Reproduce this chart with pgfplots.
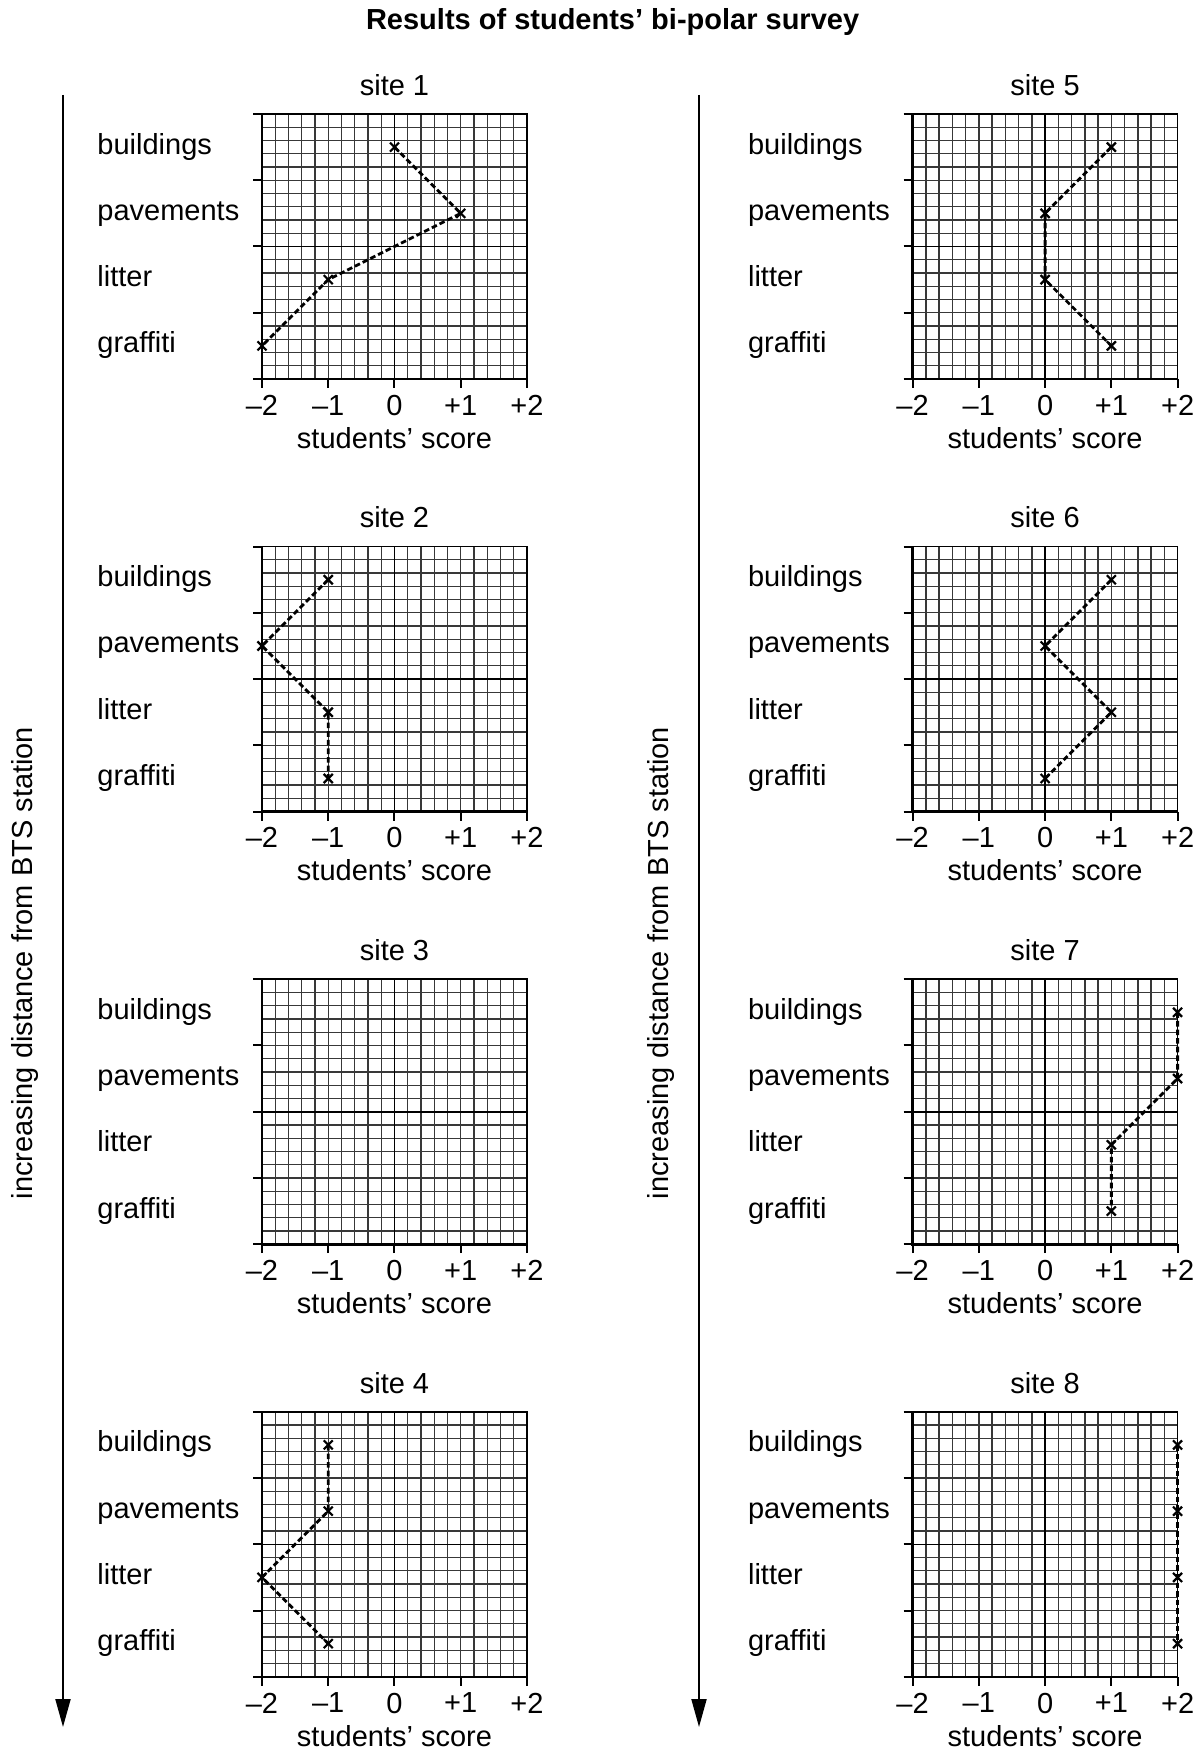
\documentclass[border=0pt]{standalone}
\usepackage{fontspec}
\setmainfont{Liberation Sans}
\usepackage{pgfplots}
\pgfplotsset{compat=1.18}
\usetikzlibrary{arrows.meta}

\pgfplotsset{
  site/.style={
    width=132.5pt, height=132.5pt, scale only axis,
    anchor=north west,
    xmin=-2, xmax=2, ymin=0, ymax=4,
    xtick={-2,-1,0,1,2}, xticklabels={–2,–1,0,+1,+2},
    ytick={0,1,2,3,4}, yticklabels={},
    minor x tick num=4, minor y tick num=4,
    grid=both,
    major grid style={black!78, line width=0.65pt},
    minor grid style={black!78, line width=0.65pt},
    tick align=outside, tick pos=left,
    major tick length=4.5pt, minor tick length=0pt,
    tick style={black, line width=1pt},
    axis line style={black, line width=0.8pt},
    clip=false,
    tick label style={font=\fontsize{14.5}{17}\selectfont},
  },
  dat/.style={black, line width=1.4pt, dash pattern=on 2.8pt off 1.5pt,
    mark=x, mark size=3.2pt, mark options={solid, line width=1.1pt}},
}

\newcommand{\site}[4]{%
\begin{axis}[site, at={(#1,#2)}]
\draw[black, line width=0.8pt] (axis cs:0,0) -- (axis cs:0,4);
\draw[black, line width=0.8pt] (axis cs:-2,2) -- (axis cs:2,2);
\draw[black, line width=1.3pt] (rel axis cs:0,1) -- (rel axis cs:0,0) -- (rel axis cs:1,0);
#4
\node[yshift=14.5pt] at (rel axis cs:0.5,1) {#3};
\node[anchor=base west, xshift=-85.8pt, yshift=-3.5pt] at (rel axis cs:0,0.875) {buildings};
\node[anchor=base west, xshift=-85.8pt, yshift=-3.5pt] at (rel axis cs:0,0.625) {pavements};
\node[anchor=base west, xshift=-85.8pt, yshift=-3.5pt] at (rel axis cs:0,0.375) {litter};
\node[anchor=base west, xshift=-85.8pt, yshift=-3.5pt] at (rel axis cs:0,0.125) {graffiti};
\node[yshift=-29.5pt] at (rel axis cs:0.5,0) {students’ score};
\end{axis}}

\begin{document}
\begin{tikzpicture}[font=\fontsize{14.5}{17}\selectfont]
\useasboundingbox (0pt,0pt) rectangle (601pt,-874pt);

\node[font=\fontsize{14.5}{17}\selectfont\bfseries] at (306.3pt,-11pt) {Results of students’ bi-polar survey};

% left column
\site{131pt}{-57pt}{site 1}{\addplot[dat] coordinates {(0,3.5) (1,2.5) (-1,1.5) (-2,0.5)};}
\site{131pt}{-273.3pt}{site 2}{\addplot[dat] coordinates {(-1,3.5) (-2,2.5) (-1,1.5) (-1,0.5)};}
\site{131pt}{-489.6pt}{site 3}{}
\site{131pt}{-705.9pt}{site 4}{\addplot[dat] coordinates {(-1,3.5) (-1,2.5) (-2,1.5) (-1,0.5)};}

% right column
\site{456.3pt}{-57pt}{site 5}{\addplot[dat] coordinates {(1,3.5) (0,2.5) (0,1.5) (1,0.5)};}
\site{456.3pt}{-273.3pt}{site 6}{\addplot[dat] coordinates {(1,3.5) (0,2.5) (1,1.5) (0,0.5)};}
\site{456.3pt}{-489.6pt}{site 7}{\addplot[dat] coordinates {(2,3.5) (2,2.5) (1,1.5) (1,0.5)};}
\site{456.3pt}{-705.9pt}{site 8}{\addplot[dat] coordinates {(2,3.5) (2,2.5) (2,1.5) (2,0.5)};}

% arrows and side labels
\draw[line width=1pt, -{Triangle[length=14pt,width=7.5pt]}] (31.5pt,-47.5pt) -- (31.5pt,-863.5pt);
\draw[line width=1pt, -{Triangle[length=14pt,width=7.5pt]}] (349.5pt,-47.5pt) -- (349.5pt,-863.5pt);
\node[rotate=90] at (12.5pt,-481.5pt) {increasing distance from BTS station};
\node[rotate=90] at (330.5pt,-481.5pt) {increasing distance from BTS station};
\end{tikzpicture}
\end{document}
